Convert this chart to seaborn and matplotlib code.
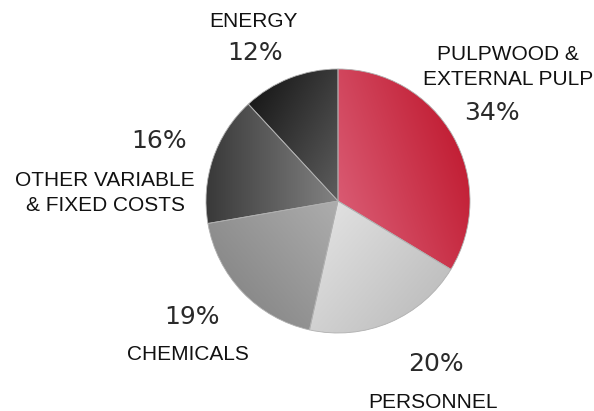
import numpy as np
import matplotlib
matplotlib.use("Agg")
import matplotlib.pyplot as plt
import seaborn as sns
from matplotlib.colors import LinearSegmentedColormap

categories = ["PULPWOOD &\nEXTERNAL PULP", "PERSONNEL", "CHEMICALS",
              "OTHER VARIABLE\n& FIXED COSTS", "ENERGY"]
shares = [34, 20, 19, 16, 12]
pct_labels = ["34%", "20%", "19%", "16%", "12%"]

# gradient colours per slice (start, end) and gradient direction in degrees
grad_colors = [("#d95a72", "#c21f35"), ("#e0e0e0", "#c0c0c0"), ("#8a8a8a", "#adadad"),
               ("#383838", "#828282"), ("#1a1a1a", "#5e5e5e")]
grad_angle = [20, -40, 40, 0, -30]

sns.set_style("white")
plt.rcParams["font.family"] = ["Liberation Sans", "DejaVu Sans"]

W, H = 594, 411
cx, cy, r = 338, 201, 132
fig = plt.figure(figsize=(W / 100, H / 100), dpi=100)
ax = fig.add_axes([(cx - r) / W, (H - cy - r) / H, 2 * r / W, 2 * r / H])

wedges, _ = ax.pie(shares, startangle=90, counterclock=False, radius=1,
                   wedgeprops=dict(linewidth=0.6, edgecolor="#b0b0b0"))
ax.set_xlim(-1, 1)
ax.set_ylim(-1, 1)

xx, yy = np.meshgrid(np.linspace(-1, 1, 400), np.linspace(1, -1, 400))
for w, (c0, c1), ang in zip(wedges, grad_colors, grad_angle):
    w.set_facecolor("none")
    a = np.deg2rad(ang)
    proj = xx * np.cos(a) + yy * np.sin(a)
    verts = w.get_path().vertices
    vp = verts[:, 0] * np.cos(a) + verts[:, 1] * np.sin(a)
    t = np.clip((proj - vp.min()) / (vp.max() - vp.min()), 0, 1)
    cmap = LinearSegmentedColormap.from_list("g", [c0, c1])
    im = ax.imshow(t, cmap=cmap, extent=(-1, 1, -1, 1), vmin=0, vmax=1,
                   interpolation="bilinear", zorder=0.5)
    im.set_clip_path(w)


def px(x, y):
    return (x - cx) / r, (cy - y) / r


label_pos = [(508, 67), (433, 402), (188, 354), (105, 193), (253, 21)]
pct_pos = [(492, 113), (436, 364), (192, 317), (159, 141), (255, 53)]
for lab, (x, y) in zip(categories, label_pos):
    ax.text(*px(x, y), lab, ha="center", va="center", fontsize=15,
            color="#111111", linespacing=1.45, clip_on=False)
for lab, (x, y) in zip(pct_labels, pct_pos):
    ax.text(*px(x, y), lab, ha="center", va="center", fontsize=18,
            family="DejaVu Sans", color="#2a2a2a", clip_on=False)

ax.set_axis_off()
fig.savefig("out.png", dpi=100)
